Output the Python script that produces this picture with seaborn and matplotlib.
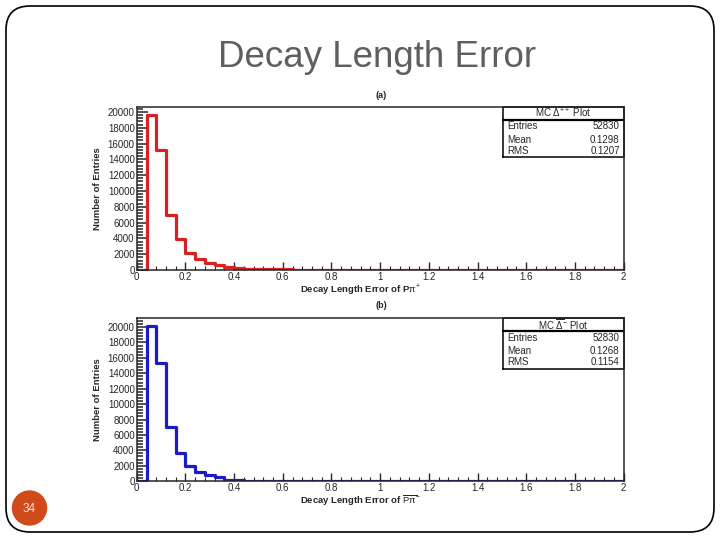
import numpy as np
import pandas as pd
import matplotlib
matplotlib.use("Agg")
import matplotlib.pyplot as plt
import seaborn as sns
from matplotlib.patches import FancyBboxPatch, Circle
from matplotlib.ticker import MultipleLocator

# histogram data: 50 bins of width 0.04 between 0 and 2
bin_edges = np.linspace(0, 2, 51)
counts_a = [0, 19600, 15200, 7000, 3900, 2200, 1400, 900, 600, 350,
            200, 180, 150, 100, 80, 70, 60, 50, 50, 40,
            40, 30, 30, 30, 20, 10, 10, 10, 10, 10,
            5, 5, 5, 5, 5, 5, 5, 5, 5, 5,
            5, 5, 5, 5, 5, 5, 5, 5, 5, 5]
counts_b = [0, 20100, 15400, 7000, 3600, 2000, 1200, 800, 500, 200,
            100, 80, 80, 60, 50, 40, 30, 30, 20, 20,
            20, 15, 15, 10, 10, 10, 10, 5, 5, 5,
            5, 5, 5, 5, 5, 5, 5, 5, 5, 5,
            5, 5, 5, 5, 5, 5, 5, 5, 5, 5]
x_labels = ["0", "0.2", "0.4", "0.6", "0.8", "1", "1.2", "1.4", "1.6", "1.8", "2"]
stats_a = [("Entries", "52830"), ("Mean", "0.1298"), ("RMS", "0.1207")]
stats_b = [("Entries", "52830"), ("Mean", "0.1268"), ("RMS", "0.1154")]

sns.set_style("ticks")
plt.rcParams['font.family'] = ['Liberation Sans', 'DejaVu Sans']
plt.rcParams['mathtext.fontset'] = 'custom'
plt.rcParams['mathtext.rm'] = 'Liberation Sans'
plt.rcParams['mathtext.it'] = 'Liberation Sans'

fig = plt.figure(figsize=(7.2, 5.4), dpi=100)
fig.patch.set_facecolor("white")

# slide decoration in pixel coordinates
bg = fig.add_axes([0, 0, 1, 1])
bg.set_xlim(0, 720)
bg.set_ylim(540, 0)
bg.axis("off")
bg.add_patch(FancyBboxPatch((6, 6), 708, 526, boxstyle="round,pad=0,rounding_size=24",
                            fill=False, edgecolor="black", linewidth=1.2))
bg.add_patch(Circle((29.5, 508), 17, color="#D04A1A"))
bg.text(29.5, 508.5, "34", color="#f6e6de", fontsize=8.5, ha="center", va="center")
bg.text(377, 67, "Decay Length Error", color="#5f5f5f", fontsize=26.5, ha="center", va="baseline")
bg.text(381, 95, "(a)", fontsize=6.5, ha="center", va="center", fontweight="bold")
bg.text(381, 306, "(b)", fontsize=6.5, ha="center", va="center", fontweight="bold")


def panel(rect, counts, color, ymax, xlabel, header, stats):
    ax = fig.add_axes(rect)
    centers = (bin_edges[:-1] + bin_edges[1:]) / 2
    hist_df = pd.DataFrame({"x": centers, "w": np.asarray(counts, dtype=float)})
    sns.histplot(data=hist_df, x="x", weights="w", bins=list(bin_edges), element="step",
                 fill=False, color=color, linewidth=2.3, ax=ax)
    ax.set_xlim(0, 2)
    ax.set_ylim(0, ymax)
    ax.xaxis.set_minor_locator(MultipleLocator(0.04))
    ax.yaxis.set_major_locator(MultipleLocator(2000))
    ax.yaxis.set_minor_locator(MultipleLocator(400))
    ax.set_xticks(np.arange(0, 2.01, 0.2))
    ax.set_xticklabels(x_labels)
    ax.tick_params(which="both", direction="in", top=False, right=False, labelsize=7, pad=1.5)
    ax.tick_params(axis="y", which="major", length=8, width=1.1)
    ax.tick_params(axis="y", which="minor", length=4.5, width=1.1)
    ax.tick_params(axis="x", which="major", length=6, width=1)
    ax.tick_params(axis="x", which="minor", length=3, width=0.8)
    for s in ax.spines.values():
        s.set_linewidth(1.1)
    ax.set_xlabel(xlabel, fontsize=6.8, fontweight="bold", labelpad=1)
    ax.xaxis.set_label_coords(0.46, -0.075)
    ax.set_ylabel("Number of Entries", fontsize=6.8, fontweight="bold", labelpad=4)

    # stats box
    x0, x1, y0, y1 = 0.752, 1.0, 0.69, 1.0
    tr = ax.transAxes
    ax.plot([x0, x1, x1, x0, x0], [y0, y0, y1, y1, y0], color="black", lw=1.1,
            transform=tr, clip_on=False)
    yh = 0.92
    ax.plot([x0, x1], [yh, yh], color="black", lw=1.6, transform=tr)
    ax.text((x0 + x1) / 2, (yh + y1) / 2, header, transform=tr, ha="center", va="center",
            fontsize=7)
    rows = [0.88, 0.80, 0.73]
    for (name, val), yy in zip(stats, rows):
        ax.text(x0 + 0.01, yy, name, transform=tr, ha="left", va="center", fontsize=7)
        ax.text(x1 - 0.008, yy, val, transform=tr, ha="right", va="center", fontsize=7)
    return ax


panel([0.19, 0.50, 0.676, 0.302], counts_a, "#D62222", 20630,
      r"Decay Length Error of P$\pi^{+}$", r"MC $\Delta^{++}$ Plot", stats_a)
panel([0.19, 0.109, 0.676, 0.302], counts_b, "#1C1CC4", 21170,
      r"Decay Length Error of $\overline{P\pi}^{-}$", r"MC $\overline{\Delta}^{-}$ Plot", stats_b)

fig.savefig("out.png", dpi=100)
